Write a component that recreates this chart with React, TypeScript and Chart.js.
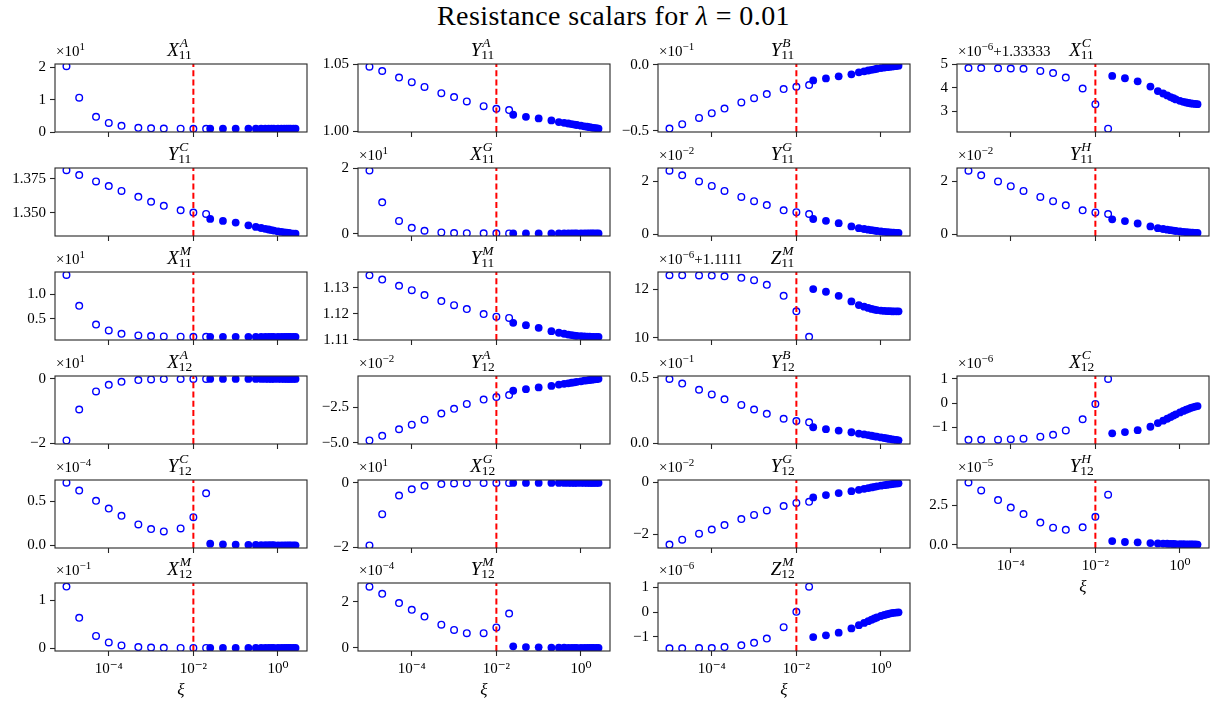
import React, { useEffect, useRef } from 'react';
import { Chart, registerables } from 'chart.js';

Chart.register(...registerables);

// ---- x values (xi) ----
const XI_OPEN = [1e-5, 2e-5, 5e-5, 1e-4, 2e-4, 5e-4, 1e-3, 2e-3, 5e-3, 1e-2, 2e-2];
const XI_FILLED = [0.025, 0.05, 0.1, 0.2, 0.3, 0.4, 0.5, 0.6, 0.7, 0.8, 1.0, 1.2, 1.4, 1.6, 1.8, 2.0, 2.3, 2.6];
const X_TICKS = [1e-4, 1e-2, 1];
const X_TICK_LABELS = ['10\u207B\u2074', '10\u207B\u00B2', '10\u2070'];
const LAMBDA_LINE = 0.01;

// ---- values (in the displayed, offset/scaled units) ----
const X11A_OPEN = [2.03, 1.06, 0.47, 0.28, 0.19, 0.13, 0.115, 0.108, 0.103, 0.101, 0.1];
const X11A_FILLED = [0.1, 0.1, 0.1, 0.1, 0.1, 0.1, 0.1, 0.1, 0.1, 0.1, 0.1, 0.1, 0.1, 0.1, 0.1, 0.1, 0.1, 0.1];
const Y11A_OPEN = [1.048, 1.0448, 1.0399, 1.0365, 1.033, 1.0283, 1.0254, 1.0222, 1.0187, 1.0167, 1.0158];
const Y11A_FILLED = [1.0123, 1.0108, 1.0096, 1.0081, 1.0069, 1.0063, 1.0058, 1.0054, 1.005, 1.0047, 1.0042, 1.0037, 1.0034, 1.0031, 1.0028, 1.0026, 1.0023, 1.002];
const Y11B_OPEN = [-0.482, -0.449, -0.402, -0.366, -0.331, -0.285, -0.253, -0.222, -0.184, -0.167, -0.154];
const Y11B_FILLED = [-0.119, -0.104, -0.088, -0.073, -0.058, -0.05, -0.044, -0.039, -0.035, -0.031, -0.026, -0.022, -0.019, -0.016, -0.014, -0.012, -0.01, -0.008];
const X11C_OPEN = [4.83, 4.83, 4.82, 4.81, 4.8, 4.71, 4.62, 4.43, 3.97, 3.31, 2.28];
const X11C_FILLED = [4.5, 4.4, 4.27, 4.05, 3.86, 3.76, 3.68, 3.61, 3.56, 3.51, 3.45, 3.41, 3.38, 3.36, 3.34, 3.33, 3.32, 3.31];

const Y11C_OPEN = [1.3813, 1.3777, 1.373, 1.3696, 1.366, 1.3616, 1.358, 1.355, 1.3517, 1.35, 1.349];
const Y11C_FILLED = [1.3453, 1.3438, 1.3426, 1.3406, 1.3394, 1.3386, 1.338, 1.3375, 1.3371, 1.3367, 1.3361, 1.3357, 1.3354, 1.3351, 1.3349, 1.3347, 1.3345, 1.3344];
const X11G_OPEN = [1.93, 0.96, 0.39, 0.18, 0.09, 0.04, 0.022, 0.015, 0.012, 0.011, 0.01];
const X11G_FILLED = [0.01, 0.01, 0.01, 0.01, 0.01, 0.01, 0.01, 0.01, 0.01, 0.01, 0.01, 0.01, 0.01, 0.01, 0.01, 0.01, 0.01, 0.01];
const Y11G_OPEN = [2.41, 2.23, 2.0, 1.83, 1.64, 1.41, 1.25, 1.1, 0.9, 0.83, 0.76];
const Y11G_FILLED = [0.57, 0.5, 0.41, 0.29, 0.22, 0.19, 0.165, 0.145, 0.13, 0.115, 0.095, 0.08, 0.07, 0.06, 0.053, 0.048, 0.043, 0.04];
const Y11H_OPEN = [2.41, 2.23, 2.0, 1.82, 1.64, 1.41, 1.25, 1.09, 0.9, 0.82, 0.76];
const Y11H_FILLED = [0.56, 0.49, 0.4, 0.29, 0.22, 0.19, 0.165, 0.145, 0.13, 0.115, 0.095, 0.08, 0.07, 0.06, 0.053, 0.048, 0.043, 0.04];

const X11M_OPEN = [1.4, 0.764, 0.378, 0.257, 0.189, 0.155, 0.142, 0.135, 0.13, 0.128, 0.127];
const X11M_FILLED = [0.127, 0.127, 0.126, 0.126, 0.126, 0.126, 0.126, 0.125, 0.125, 0.125, 0.125, 0.125, 0.125, 0.125, 0.125, 0.125, 0.125, 0.125];
const Y11M_OPEN = [1.1348, 1.1332, 1.1308, 1.1291, 1.1272, 1.1249, 1.1233, 1.1218, 1.1199, 1.1189, 1.1184];
const Y11M_FILLED = [1.1165, 1.1156, 1.1146, 1.1133, 1.1127, 1.1123, 1.112, 1.1118, 1.1116, 1.1115, 1.1114, 1.1113, 1.1112, 1.1112, 1.1111, 1.1111, 1.1111, 1.1111];
const Z11M_OPEN = [12.585, 12.585, 12.58, 12.57, 12.54, 12.48, 12.38, 12.19, 11.73, 11.09, 10.03];
const Z11M_FILLED = [12.01, 11.9, 11.73, 11.5, 11.35, 11.28, 11.23, 11.19, 11.16, 11.14, 11.12, 11.105, 11.1, 11.095, 11.09, 11.09, 11.09, 11.09];

const X12A_OPEN = [-1.91, -0.954, -0.396, -0.193, -0.1, -0.045, -0.025, -0.015, -0.012, -0.011, -0.01];
const X12A_FILLED = [-0.01, -0.01, -0.01, -0.01, -0.01, -0.01, -0.01, -0.01, -0.01, -0.01, -0.01, -0.01, -0.01, -0.01, -0.01, -0.01, -0.01, -0.01];
const Y12A_OPEN = [-4.82, -4.5, -4.04, -3.72, -3.37, -2.94, -2.61, -2.27, -1.97, -1.79, -1.65];
const Y12A_FILLED = [-1.35, -1.24, -1.12, -1.01, -0.92, -0.87, -0.83, -0.79, -0.76, -0.73, -0.69, -0.65, -0.62, -0.6, -0.58, -0.56, -0.54, -0.52];
const Y12B_OPEN = [0.492, 0.457, 0.41, 0.374, 0.337, 0.294, 0.259, 0.226, 0.188, 0.171, 0.161];
const Y12B_FILLED = [0.123, 0.108, 0.098, 0.085, 0.075, 0.068, 0.063, 0.058, 0.054, 0.051, 0.045, 0.041, 0.037, 0.034, 0.031, 0.029, 0.026, 0.023];
const X12C_OPEN = [-1.51, -1.51, -1.5, -1.48, -1.46, -1.38, -1.3, -1.12, -0.66, -0.03, 1.0];
const X12C_FILLED = [-1.24, -1.19, -1.11, -0.97, -0.82, -0.72, -0.64, -0.57, -0.51, -0.46, -0.38, -0.32, -0.27, -0.23, -0.19, -0.17, -0.14, -0.12];

const Y12C_OPEN = [0.716, 0.625, 0.508, 0.42, 0.337, 0.239, 0.186, 0.159, 0.193, 0.322, 0.595];
const Y12C_FILLED = [0.019, 0.011, 0.008, 0.005, 0.004, 0.003, 0.003, 0.002, 0.002, 0.002, 0.001, 0.001, 0.001, 0.001, 0.001, 0.001, 0.001, 0.001];
const X12G_OPEN = [-1.94, -0.974, -0.4, -0.205, -0.1, -0.045, -0.025, -0.016, -0.012, -0.011, -0.01];
const X12G_FILLED = [-0.01, -0.01, -0.01, -0.01, -0.01, -0.01, -0.01, -0.01, -0.01, -0.01, -0.01, -0.01, -0.01, -0.01, -0.01, -0.01, -0.01, -0.01];
const Y12G_OPEN = [-2.39, -2.2, -1.97, -1.81, -1.64, -1.41, -1.25, -1.08, -0.91, -0.79, -0.75];
const Y12G_FILLED = [-0.58, -0.49, -0.415, -0.34, -0.29, -0.25, -0.22, -0.195, -0.175, -0.155, -0.13, -0.11, -0.095, -0.08, -0.07, -0.06, -0.05, -0.04];
const Y12H_OPEN = [3.94, 3.44, 2.83, 2.35, 1.94, 1.4, 1.08, 0.94, 1.1, 1.77, 3.17];
const Y12H_FILLED = [0.23, 0.17, 0.15, 0.1, 0.08, 0.07, 0.06, 0.05, 0.045, 0.04, 0.035, 0.03, 0.025, 0.02, 0.018, 0.015, 0.012, 0.01];

const X12M_OPEN = [1.29, 0.634, 0.255, 0.117, 0.055, 0.02, 0.01, 0.005, 0.003, 0.002, 0.002];
const X12M_FILLED = [0.001, 0.001, 0.001, 0.001, 0.001, 0.001, 0.001, 0.001, 0.001, 0.001, 0.001, 0.001, 0.001, 0.001, 0.001, 0.001, 0.001, 0.001];
const Y12M_OPEN = [2.65, 2.34, 1.94, 1.65, 1.36, 1.01, 0.78, 0.64, 0.64, 0.89, 1.49];
const Y12M_FILLED = [0.07, 0.04, 0.03, 0.015, 0.012, 0.01, 0.009, 0.008, 0.007, 0.006, 0.005, 0.004, 0.004, 0.003, 0.003, 0.002, 0.002, 0.002];
const Z12M_OPEN = [-1.46, -1.46, -1.45, -1.45, -1.41, -1.34, -1.24, -1.07, -0.61, 0.01, 1.02];
const Z12M_FILLED = [-1.01, -0.94, -0.83, -0.66, -0.53, -0.44, -0.37, -0.31, -0.26, -0.22, -0.16, -0.12, -0.09, -0.06, -0.04, -0.03, -0.02, -0.01];

// ---- panel descriptions ----
type Panel = {
  letter: string; sub: string; sup: string;
  open: number[]; filled: number[];
  yTicks: number[]; dec: number; yLim: [number, number];
  expo?: string; add?: string;
  row: number; col: number; xLabels: boolean;
};

const PANELS: Panel[] = [
  { letter: 'X', sub: '11', sup: 'A', open: X11A_OPEN, filled: X11A_FILLED, yTicks: [0, 1, 2], dec: 0, yLim: [0.0, 2.1], expo: '1', row: 0, col: 0, xLabels: false },
  { letter: 'Y', sub: '11', sup: 'A', open: Y11A_OPEN, filled: Y11A_FILLED, yTicks: [1.0, 1.05], dec: 2, yLim: [0.9995, 1.05], row: 0, col: 1, xLabels: false },
  { letter: 'Y', sub: '11', sup: 'B', open: Y11B_OPEN, filled: Y11B_FILLED, yTicks: [-0.5, 0.0], dec: 1, yLim: [-0.508, 0.005], expo: '\u22121', row: 0, col: 2, xLabels: false },
  { letter: 'X', sub: '11', sup: 'C', open: X11C_OPEN, filled: X11C_FILLED, yTicks: [3, 4, 5], dec: 0, yLim: [2.14, 5.0], expo: '\u22126', add: '+1.33333', row: 0, col: 3, xLabels: false },

  { letter: 'Y', sub: '11', sup: 'C', open: Y11C_OPEN, filled: Y11C_FILLED, yTicks: [1.35, 1.375], dec: 3, yLim: [1.3327, 1.3829], row: 1, col: 0, xLabels: false },
  { letter: 'X', sub: '11', sup: 'G', open: X11G_OPEN, filled: X11G_FILLED, yTicks: [0, 2], dec: 0, yLim: [-0.07, 2.01], expo: '1', row: 1, col: 1, xLabels: false },
  { letter: 'Y', sub: '11', sup: 'G', open: Y11G_OPEN, filled: Y11G_FILLED, yTicks: [0, 2], dec: 0, yLim: [-0.076, 2.51], expo: '\u22122', row: 1, col: 2, xLabels: false },
  { letter: 'Y', sub: '11', sup: 'H', open: Y11H_OPEN, filled: Y11H_FILLED, yTicks: [0, 2], dec: 0, yLim: [-0.076, 2.51], expo: '\u22122', row: 1, col: 3, xLabels: false },

  { letter: 'X', sub: '11', sup: 'M', open: X11M_OPEN, filled: X11M_FILLED, yTicks: [0.5, 1.0], dec: 1, yLim: [0.061, 1.46], expo: '1', row: 2, col: 0, xLabels: false },
  { letter: 'Y', sub: '11', sup: 'M', open: Y11M_OPEN, filled: Y11M_FILLED, yTicks: [1.11, 1.12, 1.13], dec: 2, yLim: [1.1099, 1.1361], row: 2, col: 1, xLabels: false },
  { letter: 'Z', sub: '11', sup: 'M', open: Z11M_OPEN, filled: Z11M_FILLED, yTicks: [10, 12], dec: 0, yLim: [9.9, 12.72], expo: '\u22126', add: '+1.1111', row: 2, col: 2, xLabels: false },

  { letter: 'X', sub: '12', sup: 'A', open: X12A_OPEN, filled: X12A_FILLED, yTicks: [-2, 0], dec: 0, yLim: [-2.02, 0.08], expo: '1', row: 3, col: 0, xLabels: false },
  { letter: 'Y', sub: '12', sup: 'A', open: Y12A_OPEN, filled: Y12A_FILLED, yTicks: [-5.0, -2.5], dec: 1, yLim: [-5.07, -0.32], expo: '\u22122', row: 3, col: 1, xLabels: false },
  { letter: 'Y', sub: '12', sup: 'B', open: Y12B_OPEN, filled: Y12B_FILLED, yTicks: [0.0, 0.5], dec: 1, yLim: [-0.005, 0.515], expo: '\u22121', row: 3, col: 2, xLabels: false },
  { letter: 'X', sub: '12', sup: 'C', open: X12C_OPEN, filled: X12C_FILLED, yTicks: [-1, 0, 1], dec: 0, yLim: [-1.68, 1.12], expo: '\u22126', row: 3, col: 3, xLabels: false },

  { letter: 'Y', sub: '12', sup: 'C', open: Y12C_OPEN, filled: Y12C_FILLED, yTicks: [0.0, 0.5], dec: 1, yLim: [-0.03, 0.746], expo: '\u22124', row: 4, col: 0, xLabels: false },
  { letter: 'X', sub: '12', sup: 'G', open: X12G_OPEN, filled: X12G_FILLED, yTicks: [-2, 0], dec: 0, yLim: [-2.02, 0.08], expo: '1', row: 4, col: 1, xLabels: false },
  { letter: 'Y', sub: '12', sup: 'G', open: Y12G_OPEN, filled: Y12G_FILLED, yTicks: [-2, 0], dec: 0, yLim: [-2.52, 0.088], expo: '\u22122', row: 4, col: 2, xLabels: false },
  { letter: 'Y', sub: '12', sup: 'H', open: Y12H_OPEN, filled: Y12H_FILLED, yTicks: [0.0, 2.5], dec: 1, yLim: [-0.21, 4.1], expo: '\u22125', row: 4, col: 3, xLabels: true },

  { letter: 'X', sub: '12', sup: 'M', open: X12M_OPEN, filled: X12M_FILLED, yTicks: [0, 1], dec: 0, yLim: [-0.062, 1.365], expo: '\u22121', row: 5, col: 0, xLabels: true },
  { letter: 'Y', sub: '12', sup: 'M', open: Y12M_OPEN, filled: Y12M_FILLED, yTicks: [0, 2], dec: 0, yLim: [-0.13, 2.81], expo: '\u22124', row: 5, col: 1, xLabels: true },
  { letter: 'Z', sub: '12', sup: 'M', open: Z12M_OPEN, filled: Z12M_FILLED, yTicks: [-1, 0, 1], dec: 0, yLim: [-1.57, 1.17], expo: '\u22126', row: 5, col: 2, xLabels: true },
];

// ---- layout ----
const COL_LEFT = [55, 358, 658, 957];
const ROW_TOP = [64, 168, 272, 376, 480, 583];
const BOX_W = 252;
const BOX_H = 68;
const X_MIN = Math.pow(10, -5.271);
const X_MAX = Math.pow(10, 0.686);

const FONT = "'Liberation Serif', 'DejaVu Serif', serif";
const BLUE = '#0000ff';
const RED = '#ff0000';
const SPINE = '#262626';

function fmt(v: number, dec: number): string {
  const s = Math.abs(v).toFixed(dec);
  return (v < 0 && Math.abs(v) > 1e-12 ? '\u2212' : '') + s;
}

const framePlugin = {
  id: 'frame',
  afterDraw(chart: any) {
    const { ctx, chartArea: a } = chart;
    ctx.save();
    ctx.strokeStyle = SPINE;
    ctx.lineWidth = 1.1;
    ctx.strokeRect(a.left, a.top, a.right - a.left, a.bottom - a.top);
    ctx.restore();
  },
};

function PanelChart({ p }: { p: Panel }) {
  const ref = useRef<HTMLCanvasElement>(null);
  const L = 60, T = 14, R = 14;
  const B = p.xLabels ? 52 : 14;
  const W = BOX_W + L + R;
  const H = BOX_H + T + B;
  useEffect(() => {
    const [ymin, ymax] = p.yLim;
    const chart = new Chart(ref.current as HTMLCanvasElement, {
      type: 'scatter',
      data: {
        datasets: [
          {
            data: [{ x: LAMBDA_LINE, y: ymin }, { x: LAMBDA_LINE, y: ymax }],
            showLine: true,
            borderColor: RED,
            borderWidth: 2,
            borderDash: [6, 3.3],
            pointRadius: 0,
            fill: false,
          },
          {
            data: XI_OPEN.map((x, i) => ({ x, y: p.open[i] })),
            pointRadius: 3.3,
            pointBorderWidth: 1.4,
            borderColor: BLUE,
            pointBorderColor: BLUE,
            backgroundColor: 'rgba(0,0,0,0)',
            pointBackgroundColor: 'rgba(0,0,0,0)',
          },
          {
            data: XI_FILLED.map((x, i) => ({ x, y: p.filled[i] })),
            pointRadius: 3.9,
            pointBorderWidth: 0,
            borderColor: BLUE,
            pointBorderColor: BLUE,
            backgroundColor: BLUE,
            pointBackgroundColor: BLUE,
          },
        ],
      },
      options: {
        responsive: false,
        animation: false,
        devicePixelRatio: 1,
        events: [],
        layout: { padding: { left: 0, top: T, right: R, bottom: 0 } },
        plugins: { legend: { display: false }, tooltip: { enabled: false }, title: { display: false } },
        scales: {
          x: {
            type: 'logarithmic',
            position: 'bottom',
            min: X_MIN,
            max: X_MAX,
            afterBuildTicks: (s: any) => { s.ticks = X_TICKS.map((v) => ({ value: v })); },
            afterFit: (s: any) => { s.height = B; },
            ticks: {
              display: p.xLabels,
              autoSkip: false,
              maxRotation: 0,
              padding: 4,
              color: '#000',
              font: { family: FONT, size: 15 },
              callback: (_v: any, i: number) => X_TICK_LABELS[i],
            },
            grid: { drawOnChartArea: false, drawTicks: true, tickLength: 5, tickColor: SPINE, tickWidth: 1.1 },
            border: { display: false },
            title: { display: p.xLabels, text: '\u03BE', color: '#000', font: { family: FONT, size: 17, style: 'italic' }, padding: { top: 0, bottom: 2 } },
          },
          y: {
            type: 'linear',
            min: ymin,
            max: ymax,
            afterBuildTicks: (s: any) => { s.ticks = p.yTicks.map((v) => ({ value: v })); },
            afterFit: (s: any) => { s.width = L; },
            ticks: {
              padding: 4,
              color: '#000',
              font: { family: FONT, size: 15 },
              callback: (v: any) => fmt(Number(v), p.dec),
            },
            grid: { drawOnChartArea: false, drawTicks: true, tickLength: 5, tickColor: SPINE, tickWidth: 1.1 },
            border: { display: false },
          },
        },
      } as any,
      plugins: [framePlugin],
    });
    return () => chart.destroy();
  }, []);
  return (
    <canvas
      ref={ref}
      width={W}
      height={H}
      style={{ position: 'absolute', left: COL_LEFT[p.col] - L, top: ROW_TOP[p.row] - T, width: W, height: H }}
    />
  );
}

function PanelTitle({ p }: { p: Panel }) {
  const left = COL_LEFT[p.col];
  const top = ROW_TOP[p.row];
  return (
    <div
      style={{
        position: 'absolute', left, width: BOX_W, top: top - 27, height: 22, lineHeight: '22px',
        textAlign: 'center', fontFamily: FONT, fontSize: 19, color: '#000', whiteSpace: 'nowrap',
      }}
    >
      <span style={{ fontStyle: 'italic' }}>{p.letter}</span>
      <span style={{ display: 'inline-block', position: 'relative', width: 16, height: 19 }}>
        <span style={{ position: 'absolute', left: 1, top: -2, fontSize: 13.5, lineHeight: '15px', fontStyle: 'italic' }}>{p.sup}</span>
        <span style={{ position: 'absolute', left: 0, top: 10, fontSize: 13.5, lineHeight: '15px' }}>{p.sub}</span>
      </span>
    </div>
  );
}

function OffsetText({ p }: { p: Panel }) {
  if (!p.expo) return null;
  const left = COL_LEFT[p.col];
  const top = ROW_TOP[p.row];
  return (
    <div
      style={{
        position: 'absolute', left: left + 1, top: top - 21, height: 17, lineHeight: '17px',
        fontFamily: FONT, fontSize: 15, color: '#000', whiteSpace: 'nowrap',
      }}
    >
      {'\u00D710'}
      <span style={{ fontSize: 11, position: 'relative', top: -6 }}>{p.expo}</span>
      {p.add || ''}
    </div>
  );
}

export default function App() {
  return (
    <div style={{ position: 'absolute', left: 0, top: 0, width: 1217, height: 702, background: '#fff', overflow: 'hidden' }}>
      <div
        style={{
          position: 'absolute', left: 5, top: 0, width: 1217, textAlign: 'center', fontFamily: FONT,
          fontSize: 28, letterSpacing: 0.4, lineHeight: '32px', color: '#000', whiteSpace: 'nowrap',
        }}
      >
        Resistance scalars for <span style={{ fontStyle: 'italic' }}>{'\u03BB'}</span> = 0.01
      </div>
      {PANELS.map((p, i) => (
        <PanelChart key={'c' + i} p={p} />
      ))}
      {PANELS.map((p, i) => (
        <PanelTitle key={'t' + i} p={p} />
      ))}
      {PANELS.map((p, i) => (
        <OffsetText key={'o' + i} p={p} />
      ))}
    </div>
  );
}
